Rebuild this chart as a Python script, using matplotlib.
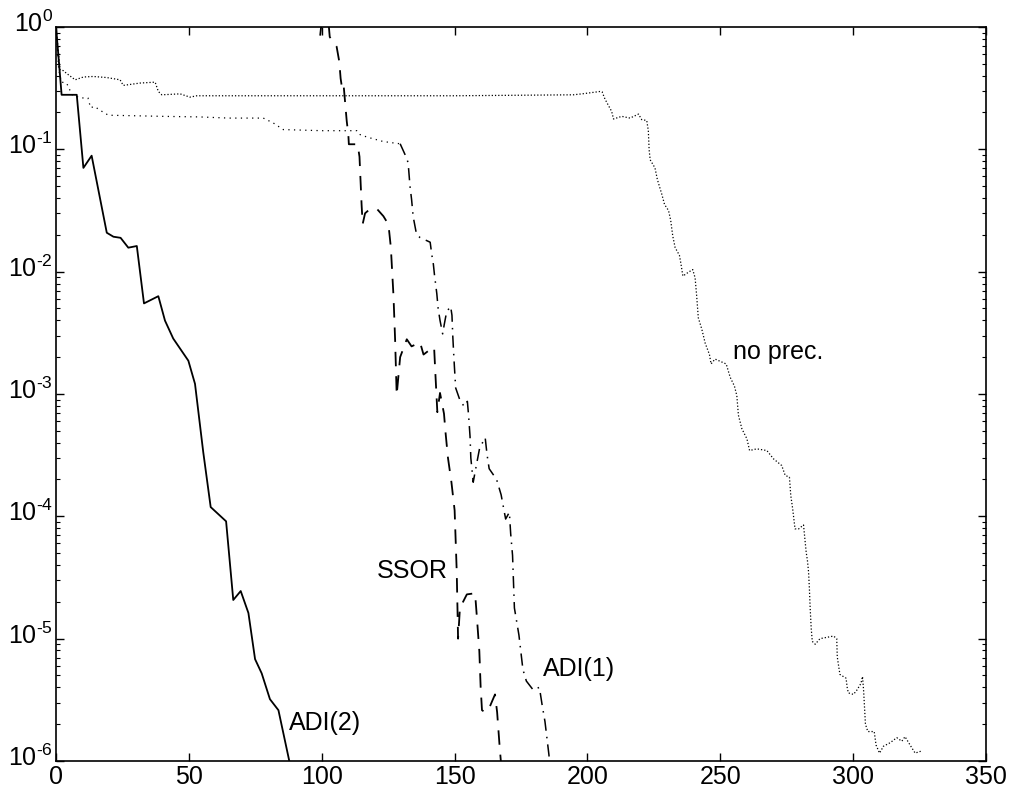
import numpy as np
import matplotlib.pyplot as plt
import matplotlib.transforms as mtransforms
from matplotlib.ticker import FuncFormatter

plt.rcParams['font.family'] = ['Liberation Sans', 'DejaVu Sans']
plt.rcParams['mathtext.fontset'] = 'custom'
plt.rcParams['mathtext.rm'] = 'Liberation Sans'
plt.rcParams['mathtext.default'] = 'regular'

# --- ADI(2), solid ---
adi2_x = [0, 2.1, 7.8, 10.3, 13.4, 19.1, 21.6, 24.3, 27.2, 30.4, 33.1, 38.5, 41.0,
          44.1, 49.8, 52.3, 55.4, 58.2, 64.0, 66.7, 69.5, 72.4, 74.9, 77.4, 80.5, 83.7, 88.0]
adi2_y = [1.0, 0.279, 0.279, 0.0705, 0.0887, 0.0208, 0.0193, 0.0189, 0.0157, 0.0162,
          0.0055, 0.0063, 0.00398, 0.00284, 0.00187, 0.00121, 3.35e-4, 1.19e-4, 9.1e-5,
          2.07e-5, 2.45e-5, 1.62e-5, 6.8e-6, 5.2e-6, 3.2e-6, 2.6e-6, 9.5e-7]

# --- SSOR, dashed ---
ssor_x = [99.4, 100.0, 102.5, 103.0, 103.8, 105.6, 106.6, 107.1, 107.6, 108.2, 108.6,
          109.4, 110.0, 110.2, 113.5, 114.2, 115.0, 115.4, 116.3, 117.5, 120.7, 123.2,
          125.1, 126.0, 127.0, 127.6, 128.2, 129.5, 132.0, 133.8, 137.0, 138.3, 140.1,
          141.2, 142.3, 142.8, 143.5, 144.5, 146.0, 146.6, 147.5, 148.8, 150.0, 150.4,
          150.8, 151.3, 152.0, 154.6, 157.7, 158.3, 159.3, 159.8, 160.3, 161.5, 163.3,
          165.2, 166.0, 167.0, 167.6]
ssor_y = [0.85, 1.12, 1.12, 0.83, 0.78, 0.69, 0.52, 0.38, 0.32, 0.34, 0.27,
          0.17, 0.132, 0.11, 0.11, 0.087, 0.035, 0.0245, 0.030, 0.0316, 0.0327, 0.0284,
          0.0243, 0.0158, 0.0063, 0.0028, 9.8e-4, 2.0e-3, 2.8e-3, 2.45e-3, 2.64e-3, 2.1e-3, 2.25e-3,
          2.2e-3, 2.36e-3, 1.41e-3, 7.1e-4, 1.02e-3, 6.9e-4, 4.8e-4, 3.0e-4, 1.9e-4, 1.12e-4, 6.3e-5,
          3.5e-5, 1.0e-5, 1.78e-5, 2.3e-5, 2.35e-5, 1.58e-5, 7.9e-6, 4.0e-6, 2.6e-6, 2.5e-6, 2.8e-6,
          3.5e-6, 2.5e-6, 1.26e-6, 8.9e-7]

# --- ADI(1), dash-dot (looks dotted on the slow part) ---
adi1_x = [0, 1, 2, 4, 6, 9, 12, 13, 14.5, 16.5, 19.7, 30, 40, 54, 65, 78, 81.8, 85.5,
          100, 113.2, 114.4, 117, 123, 126, 129.5, 131.3, 132.5, 133.2, 133.8, 134.4,
          135.7, 137, 140.8, 141.4, 142, 142.4, 143.3, 143.8, 144.5, 145.5, 146.1, 147,
          148.5, 149, 149.3, 149.6, 149.9, 150.4, 152, 153.6, 154.8, 155.3, 155.8, 156.1,
          157, 157.7, 159.4, 161.5, 162.2, 163, 165.8, 167.5, 169.2, 170.6, 171.1, 171.8,
          172.5, 174.2, 175.7, 177, 179.6, 181.9, 182.9, 184, 185.5, 185.8]
adi1_y = [1.0, 0.45, 0.355, 0.347, 0.28, 0.263, 0.263, 0.219, 0.224, 0.209, 0.19, 0.188,
          0.186, 0.184, 0.18, 0.18, 0.164, 0.145, 0.142, 0.142, 0.132, 0.126, 0.116, 0.1135,
          0.111, 0.091, 0.078, 0.050, 0.039, 0.0282, 0.020, 0.019, 0.0174, 0.0138, 0.0115,
          0.0095, 0.0066, 0.0050, 0.0040, 0.0031, 0.0037, 0.0047, 0.0052, 0.0044, 0.0030,
          0.00224, 0.0017, 0.00112, 8.9e-4, 7.9e-4, 8.7e-4, 6.5e-4, 4.5e-4, 3.0e-4, 1.9e-4,
          2.3e-4, 3.6e-4, 4.4e-4, 3.2e-4, 2.45e-4, 2.0e-4, 1.5e-4, 9.5e-5, 1.08e-4, 7.2e-5,
          4.8e-5, 1.78e-5, 1.07e-5, 5.6e-6, 4.5e-6, 3.8e-6, 4.0e-6, 2.9e-6, 2.1e-6, 1.12e-6, 8.9e-7]
adi1_split = 24  # index where the drop starts

# --- no preconditioner, dotted ---
noprec_x = [0, 1.5, 2.7, 4, 7.2, 10.3, 14, 19.1, 24.1, 25.3, 31.6, 37.3, 38.5, 39.8, 46.7,
            50.4, 53, 70, 110, 150, 194.7, 198.5, 204.7, 205.5, 206.6, 209.1, 209.8, 212.9,
            216, 219.2, 220.4, 222.3, 222.9, 223.2, 223.6, 225.4, 226.3, 228, 229, 230.5,
            231.3, 232.1, 233, 234.6, 235.2, 235.9, 238, 239.6, 240.5, 241.1, 241.7, 243,
            244.3, 245.9, 246.5, 248, 252.2, 253.7, 255.3, 256.2, 256.8, 258.1, 260, 261,
            263.7, 267.5, 270, 273.1, 274.4, 276, 276.5, 277.2, 278.1, 279.5, 281.3, 282.3,
            282.8, 283.2, 283.5, 283.8, 284.2, 284.6, 285.7, 287.5, 292.6, 293.8, 294, 294.4,
            295, 297.3, 297.8, 298.2, 300.1, 301.4, 302.9, 303.5, 303.9, 304.2, 304.6, 305.5,
            307.9, 308.6, 309.9, 311.4, 313.9, 316.4, 318.3, 319.5, 321.4, 323.3, 325.4]
noprec_y = [1.0, 0.447, 0.44, 0.417, 0.37, 0.39, 0.394, 0.386, 0.37, 0.333, 0.348, 0.354,
            0.297, 0.279, 0.284, 0.267, 0.274, 0.274, 0.274, 0.274, 0.279, 0.285, 0.297, 0.295,
            0.257, 0.204, 0.177, 0.186, 0.18, 0.194, 0.175, 0.172, 0.142, 0.099, 0.082, 0.0705,
            0.0566, 0.0427, 0.0354, 0.0316, 0.0264, 0.0195, 0.0157, 0.0136, 0.0115, 0.0092,
            0.0099, 0.0104, 0.0089, 0.0063, 0.0042, 0.0034, 0.0026, 0.0021, 0.00176, 0.00193,
            0.00176, 0.00137, 0.00116, 9.7e-4, 6.7e-4, 5.2e-4, 4.3e-4, 3.45e-4, 3.56e-4, 3.45e-4,
            2.95e-4, 2.6e-4, 2.16e-4, 2.09e-4, 1.48e-4, 1.16e-4, 7.9e-5, 7.9e-5, 8.5e-5, 5.1e-5,
            4.3e-5, 3.5e-5, 2.6e-5, 1.78e-5, 1.21e-5, 9.5e-6, 9.0e-6, 1.0e-5, 1.05e-5, 1.0e-5,
            7.1e-6, 6.2e-6, 5.1e-6, 4.75e-6, 3.9e-6, 3.6e-6, 3.5e-6, 3.8e-6, 4.3e-6, 4.9e-6,
            3.8e-6, 2.9e-6, 2.0e-6, 1.74e-6, 1.74e-6, 1.35e-6, 1.16e-6, 1.32e-6, 1.41e-6,
            1.55e-6, 1.45e-6, 1.58e-6, 1.35e-6, 1.16e-6, 1.2e-6]

# --- labels placed next to curves ---
labels = ['no prec.', 'SSOR', 'ADI(1)', 'ADI(2)']
label_x = [254.9, 120.7, 183.4, 87.8]
label_y = [2.2e-3, 3.6e-5, 5.6e-6, 2.05e-6]

fig = plt.figure(figsize=(10.15, 7.96), dpi=100)
ax = fig.add_axes([0.0552, 0.0440, 0.9163, 0.9221])

ax.semilogy(adi2_x, adi2_y, color='black', lw=1.3, linestyle='-')
ax.semilogy(ssor_x, ssor_y, color='black', lw=1.3, linestyle=(0, (8, 5.5)))
ax.semilogy(adi1_x[:adi1_split + 1], adi1_y[:adi1_split + 1], color='black', lw=0.9,
            linestyle=(0, (1, 3.5)))
ax.semilogy(adi1_x[adi1_split:], adi1_y[adi1_split:], color='black', lw=1.1,
            linestyle=(0, (8, 4, 1, 4)))
ax.semilogy(noprec_x, noprec_y, color='black', lw=0.9, linestyle=(0, (1, 1.6)))

for lab, lx, ly in zip(labels, label_x, label_y):
    ax.text(lx, ly, lab, fontsize=18, ha='left', va='center')

ax.set_xlim(0, 350)
ax.set_ylim(1e-6, 1)
ax.set_xticks(np.arange(0, 351, 50))
ax.set_yticks([1e-6, 1e-5, 1e-4, 1e-3, 1e-2, 1e-1, 1])


def dec_label(v, pos):
    e = int(round(np.log10(v)))
    return r'$10^{\text{%d}}$' % e


ax.yaxis.set_major_formatter(FuncFormatter(dec_label))

ax.tick_params(which='both', direction='in', top=True, right=True, labelsize=18)
ax.tick_params(which='major', length=6, width=1)
ax.tick_params(which='minor', length=3, width=0.8)
ax.tick_params(axis='x', which='minor', bottom=False, top=False)
ax.tick_params(axis='x', pad=3)
ax.tick_params(axis='y', pad=2)
for s in ax.spines.values():
    s.set_linewidth(1.2)

# lift the decade labels so the "10" sits on the tick
lift = mtransforms.ScaledTranslation(0, 4 / 72, fig.dpi_scale_trans)
for lab in ax.get_yticklabels():
    lab.set_transform(lab.get_transform() + lift)

fig.savefig('out.png', dpi=100)
